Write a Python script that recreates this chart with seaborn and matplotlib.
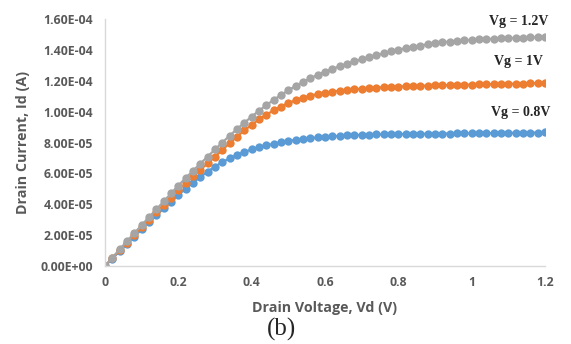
import numpy as np
import pandas as pd
import matplotlib
matplotlib.use("Agg")
import matplotlib.pyplot as plt
from matplotlib.ticker import FuncFormatter
import seaborn as sns

# Drain voltage (V), step 0.02
vd = [round(i * 0.02, 2) for i in range(61)]

# Drain current values in units of 1e-5 A
id_vg08 = [0, 0.48, 0.96, 1.43, 1.90, 2.37, 2.83, 3.28, 3.73, 4.17, 4.60, 5.01, 5.40, 5.77, 6.12,
           6.44, 6.73, 6.98, 7.20, 7.39, 7.55, 7.69, 7.81, 7.92, 8.02, 8.10, 8.17, 8.23, 8.28, 8.33,
           8.37, 8.40, 8.43, 8.46, 8.48, 8.50, 8.51, 8.52, 8.53, 8.54, 8.55, 8.55, 8.56, 8.56, 8.57,
           8.57, 8.58, 8.58, 8.59, 8.59, 8.60, 8.60, 8.61, 8.61, 8.62, 8.62, 8.63, 8.63, 8.64, 8.64, 8.65]
id_vg10 = [0, 0.51, 1.02, 1.52, 2.02, 2.51, 3.00, 3.48, 3.96, 4.43, 4.90, 5.36, 5.80, 6.23, 6.65,
           7.08, 7.52, 7.96, 8.38, 8.78, 9.15, 9.49, 9.80, 10.08, 10.33, 10.55, 10.74, 10.90, 11.03, 11.14,
           11.23, 11.30, 11.36, 11.41, 11.45, 11.49, 11.52, 11.55, 11.58, 11.60, 11.62, 11.64, 11.66, 11.67, 11.69,
           11.70, 11.71, 11.72, 11.73, 11.74, 11.75, 11.76, 11.77, 11.78, 11.79, 11.80, 11.81, 11.82, 11.83, 11.84, 11.86]
id_vg12 = [0, 0.54, 1.08, 1.61, 2.13, 2.65, 3.16, 3.67, 4.18, 4.70, 5.21, 5.70, 6.17, 6.63, 7.09,
           7.55, 8.00, 8.44, 8.87, 9.28, 9.68, 10.06, 10.42, 10.76, 11.08, 11.38, 11.66, 11.92, 12.16, 12.38,
           12.58, 12.77, 12.94, 13.10, 13.25, 13.39, 13.52, 13.64, 13.78, 13.90, 14.01, 14.11, 14.20, 14.28, 14.36,
           14.43, 14.49, 14.54, 14.58, 14.62, 14.65, 14.68, 14.70, 14.72, 14.74, 14.76, 14.78, 14.79, 14.81, 14.82, 14.83]

series_names = ["Vg = 0.8V", "Vg = 1V", "Vg = 1.2V"]
series_colors = ["#5B9BD5", "#ED7D31", "#A5A5A5"]
x_ticks = [0, 0.2, 0.4, 0.6, 0.8, 1, 1.2]
x_tick_labels = ["0", "0.2", "0.4", "0.6", "0.8", "1", "1.2"]
y_ticks = [0, 2e-5, 4e-5, 6e-5, 8e-5, 1e-4, 1.2e-4, 1.4e-4, 1.6e-4]

frames = []
for name, vals in zip(series_names, [id_vg08, id_vg10, id_vg12]):
    frames.append(pd.DataFrame({"Vd": vd, "Id": np.array(vals) * 1e-5, "Vg": name}))
df = pd.concat(frames, ignore_index=True)

sns.set_style("white")
plt.rcParams['font.family'] = ['Open Sans', 'DejaVu Sans']

fig = plt.figure(figsize=(5.71, 3.44), dpi=100)
ax = fig.add_axes([105 / 571, 1 - 266 / 344, 440 / 571, 247 / 344])

sns.lineplot(data=df, x="Vd", y="Id", hue="Vg", hue_order=series_names,
             palette=dict(zip(series_names, series_colors)), marker="o",
             markersize=6.0, markeredgewidth=0, linewidth=1.6, legend=False, ax=ax)

ax.set_xlim(0, 1.2)
ax.set_ylim(0, 1.6e-4)
ax.set_xticks(x_ticks)
ax.set_xticklabels(x_tick_labels)
ax.set_yticks(y_ticks)
ax.yaxis.set_major_formatter(FuncFormatter(lambda v, p: f"{v:.2E}"))
ax.tick_params(axis="both", length=0, labelsize=8.8, labelcolor="#595959")
ax.tick_params(axis="x", pad=7)
ax.tick_params(axis="y", pad=8.5)
for lbl in ax.get_xticklabels() + ax.get_yticklabels():
    lbl.set_fontweight("bold")

for side in ["top", "right"]:
    ax.spines[side].set_visible(False)
for side in ["left", "bottom"]:
    ax.spines[side].set_color("#D9D9D9")
    ax.spines[side].set_linewidth(1.0)

ax.set_xlabel("Drain Voltage, Vd (V)", fontsize=10.3, fontweight="bold", color="#595959", va="center")
ax.set_ylabel("Drain Current, Id (A)", fontsize=10.3, fontweight="bold", color="#595959", va="center")
ax.xaxis.set_label_coords(0.499, (266 - 308) / 247)
ax.yaxis.set_label_coords((23 - 105) / 440, 0.5)

serif = ['Liberation Serif', 'DejaVu Serif']
fig.text(548 / 571, 1 - 21 / 344, "Vg = 1.2V", ha="right", va="center", fontsize=10,
         fontweight="bold", family=serif)
fig.text(543 / 571, 1 - 62 / 344, "Vg = 1V", ha="right", va="center", fontsize=10,
         fontweight="bold", family=serif)
fig.text(550 / 571, 1 - 113 / 344, "Vg = 0.8V", ha="right", va="center", fontsize=10,
         fontweight="bold", family=serif)
fig.text(282 / 571, 1 - 329 / 344, "(b)", ha="center", va="center", fontsize=18, family=serif)

fig.savefig("out.png", dpi=100)
